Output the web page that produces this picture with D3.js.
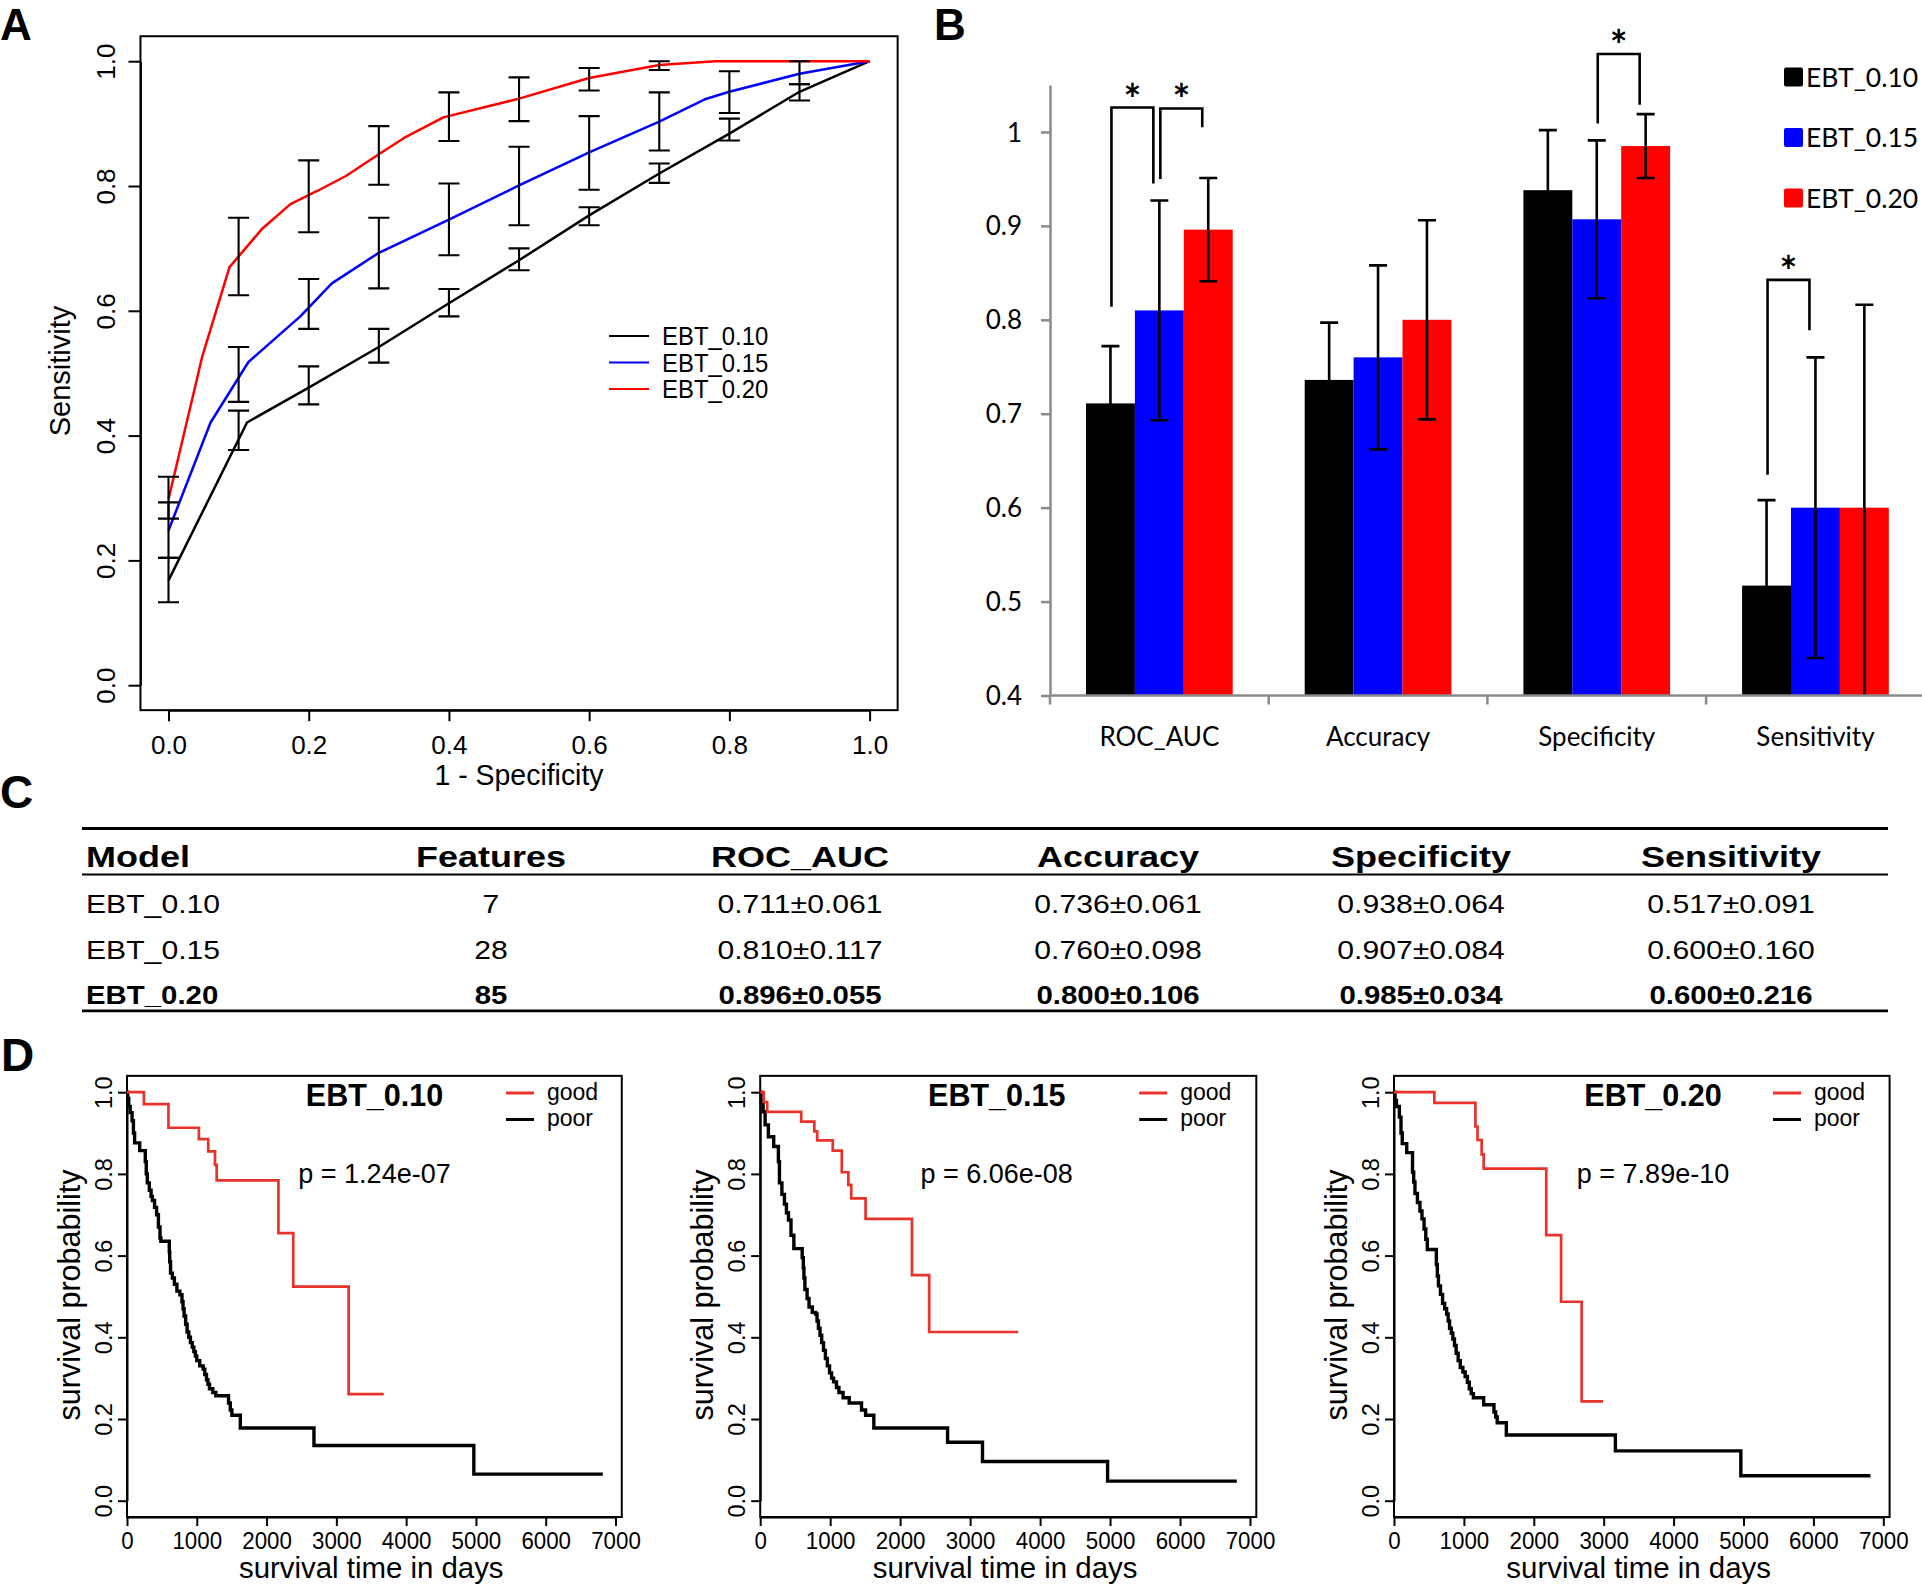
<!DOCTYPE html>
<html><head><meta charset="utf-8">
<script src="https://cdn.jsdelivr.net/npm/d3@7"></script>
<style>body{margin:0;background:#fff}svg{display:block}</style>
</head><body>
<svg id="fig" width="1922" height="1587"></svg>
<script>
// ================= DATA =================
const models = ["EBT_0.10", "EBT_0.15", "EBT_0.20"];
const features = [7, 28, 85];
const metrics = ["ROC_AUC", "Accuracy", "Specificity", "Sensitivity"];

// Panel B / C: mean and sd per model, in metric order
const meanEBT010 = [0.711, 0.736, 0.938, 0.517];
const sdEBT010   = [0.061, 0.061, 0.064, 0.091];
const meanEBT015 = [0.810, 0.760, 0.907, 0.600];
const sdEBT015   = [0.117, 0.098, 0.084, 0.160];
const meanEBT020 = [0.896, 0.800, 0.985, 0.600];
const sdEBT020   = [0.055, 0.106, 0.034, 0.216];
const barTicks = [0.4, 0.5, 0.6, 0.7, 0.8, 0.9, 1.0];
const sigBrackets = [
  { metric: "ROC_AUC", left: 0, right: 1, top: 1.026, leftEnd: 0.814, rightEnd: 0.945 },
  { metric: "ROC_AUC", left: 1, right: 2, top: 1.025, leftEnd: 0.950, rightEnd: 1.005 },
  { metric: "Specificity", left: 1, right: 2, top: 1.083, leftEnd: 1.009, rightEnd: 1.029 },
  { metric: "Sensitivity", left: 0, right: 1, top: 0.8425, leftEnd: 0.635, rightEnd: 0.789 }
];

// Panel A: ROC curves [1-specificity, sensitivity] and error bars [1-spec, low, high]
const rocTicks = [0, 0.2, 0.4, 0.6, 0.8, 1.0];
const rocEBT010 = [[0,0.168],[0.112,0.421],[0.2,0.477],[0.3,0.542],[0.4,0.612],[0.5,0.681],[0.6,0.753],[0.7,0.82],[0.8,0.884],[0.9,0.951],[1,1]];
const rocEBT015 = [[0,0.248],[0.06,0.421],[0.114,0.518],[0.188,0.591],[0.233,0.644],[0.3,0.693],[0.4,0.746],[0.5,0.801],[0.6,0.854],[0.7,0.903],[0.765,0.939],[0.8,0.951],[0.9,0.98],[1,1]];
const rocEBT020 = [[0,0.298],[0.048,0.526],[0.087,0.67],[0.134,0.732],[0.174,0.771],[0.212,0.792],[0.253,0.816],[0.3,0.851],[0.336,0.877],[0.392,0.91],[0.5,0.94],[0.6,0.973],[0.7,0.994],[0.78,1],[1,1]];
const rocErrEBT010 = [[0,0.133,0.204],[0.1,0.377,0.44],[0.2,0.45,0.511],[0.3,0.517,0.571],[0.4,0.591,0.635],[0.5,0.665,0.7],[0.6,0.737,0.766],[0.7,0.805,0.836],[0.8,0.873,0.908],[0.9,0.937,0.963]];
const rocErrEBT015 = [[0,0.204,0.293],[0.1,0.454,0.542],[0.2,0.571,0.651],[0.3,0.636,0.749],[0.4,0.689,0.804],[0.5,0.737,0.863],[0.6,0.794,0.912],[0.7,0.857,0.95],[0.8,0.917,0.984],[0.9,0.963,1.0]];
const rocErrEBT020 = [[0,0.267,0.334],[0.1,0.625,0.749],[0.2,0.726,0.841],[0.3,0.802,0.896],[0.4,0.872,0.95],[0.5,0.904,0.974],[0.6,0.953,0.989],[0.7,0.986,1.0]];

// Panel D: Kaplan-Meier steps [days, survival]
const kmTimeTicks = [0, 1000, 2000, 3000, 4000, 5000, 6000, 7000];
const kmProbTicks = [0, 0.2, 0.4, 0.6, 0.8, 1.0];
const pValues = ["p = 1.24e-07", "p = 6.06e-08", "p = 7.89e-10"];
const kmGoodEBT010 = [[0,1],[242,0.971],[594,0.913],[1030,0.885],[1164,0.855],[1261,0.822],[1285,0.784],[2170,0.655],[2382,0.524],[3176,0.261],[3679,0.261]];
const kmPoorEBT010 = [[0,1],[10,0.985],[25,0.965],[45,0.95],[73,0.93],[92,0.9],[109,0.876],[182,0.857],[262,0.83],[276,0.8],[291,0.778],[320,0.76],[345,0.745],[364,0.735],[395,0.718],[424,0.7],[450,0.67],[473,0.643],[485,0.635],[606,0.609],[612,0.585],[624,0.557],[650,0.545],[679,0.53],[715,0.513],[758,0.504],[788,0.487],[803,0.47],[818,0.452],[840,0.432],[861,0.413],[885,0.4],[909,0.387],[935,0.376],[958,0.365],[980,0.354],[1000,0.343],[1042,0.33],[1091,0.322],[1115,0.309],[1139,0.296],[1160,0.285],[1182,0.274],[1230,0.265],[1273,0.257],[1455,0.239],[1480,0.222],[1503,0.209],[1624,0.178],[2679,0.135],[4970,0.065],[6818,0.065]];
const kmGoodEBT015 = [[0,1],[50,0.976],[100,0.952],[586,0.928],[774,0.904],[815,0.882],[1037,0.857],[1166,0.804],[1260,0.773],[1301,0.74],[1506,0.69],[2169,0.552],[2415,0.413],[3687,0.413]];
const kmPoorEBT015 = [[0,1],[15,0.975],[41,0.952],[70,0.92],[117,0.891],[193,0.867],[260,0.83],[275,0.778],[310,0.75],[346,0.726],[375,0.705],[404,0.687],[440,0.65],[481,0.617],[600,0.595],[616,0.57],[625,0.545],[639,0.517],[670,0.495],[698,0.474],[744,0.461],[791,0.457],[812,0.44],[832,0.422],[855,0.405],[879,0.387],[905,0.368],[932,0.348],[960,0.33],[991,0.313],[1020,0.3],[1049,0.291],[1090,0.277],[1125,0.265],[1184,0.252],[1272,0.239],[1448,0.222],[1506,0.209],[1624,0.178],[2678,0.143],[3177,0.096],[4965,0.048],[6811,0.048]];
const kmGoodEBT020 = [[0,1],[577,0.974],[1165,0.916],[1195,0.883],[1254,0.848],[1283,0.813],[2178,0.65],[2390,0.487],[2684,0.243],[2990,0.243]];
const kmPoorEBT020 = [[0,1],[15,0.98],[35,0.965],[77,0.939],[100,0.9],[118,0.874],[182,0.852],[265,0.804],[282,0.78],[300,0.752],[335,0.73],[371,0.709],[400,0.69],[430,0.665],[455,0.64],[477,0.615],[606,0.578],[620,0.55],[636,0.526],[665,0.505],[695,0.483],[725,0.47],[753,0.457],[775,0.44],[795,0.422],[820,0.41],[842,0.396],[865,0.38],[889,0.361],[918,0.343],[948,0.326],[985,0.315],[1018,0.304],[1050,0.29],[1077,0.274],[1105,0.262],[1136,0.252],[1283,0.235],[1430,0.217],[1455,0.205],[1477,0.191],[1607,0.161],[3167,0.122],[4962,0.061],[6816,0.061]];

// ================= DRAWING =================
const SANS = "'Liberation Sans', Arial, Helvetica, sans-serif";
const CAL = "Lato, 'Open Sans', sans-serif";
const colors = ["#000000", "#0000ff", "#ff0000"];
const svg = d3.select("#fig");

function T(parent, x, y, str, o = {}) {
  const rot = o.rotate || 0, sx = o.sx || 1, sy = o.sy || 1;
  let tr = `translate(${x},${y})`;
  if (rot) tr += ` rotate(${rot})`;
  if (sx !== 1 || sy !== 1) tr += ` scale(${sx},${sy})`;
  return parent.append("text").attr("transform", tr)
    .attr("font-family", o.family || SANS).attr("font-size", o.size || 20)
    .attr("font-weight", o.weight || "normal").attr("text-anchor", o.anchor || "start")
    .attr("dy", o.dy || 0).attr("fill", o.fill || "#000").text(str);
}

// panel letters
T(svg, 0, 40, "A", { size: 44, weight: "bold" });
T(svg, 934, 40, "B", { size: 44, weight: "bold" });
T(svg, 0, 808, "C", { size: 46, weight: "bold" });
T(svg, 1, 1071, "D", { size: 46, weight: "bold" });

// ---------- Panel A ----------
(function () {
  const g = svg.append("g");
  const x = d3.scaleLinear([0, 1], [168.5, 869.6]);
  const y = d3.scaleLinear([0, 1], [685.2, 61.2]);
  const boxL = x(-0.04), boxR = x(1.04), boxT = y(1.04), boxB = y(-0.04);
  const ax = g.append("g").attr("transform", `translate(0,${boxB})`)
    .call(d3.axisBottom(x).tickValues(rocTicks).tickFormat(d3.format(".1f")).tickSize(11).tickSizeOuter(0));
  ax.attr("font-family", SANS).attr("font-size", 26);
  ax.selectAll("line,path").attr("stroke-width", 2);
  ax.selectAll("text").attr("y", 44).attr("dy", 0);
  const ay = g.append("g").attr("transform", `translate(${boxL},0)`)
    .call(d3.axisLeft(y).tickValues(rocTicks).tickFormat(d3.format(".1f")).tickSize(12).tickSizeOuter(0));
  ay.attr("font-family", SANS).attr("font-size", 26);
  ay.selectAll("line,path").attr("stroke-width", 2);
  ay.selectAll("text").attr("x", 0).attr("dy", 0).attr("text-anchor", "middle")
    .attr("transform", `translate(${115.4 - boxL},0) rotate(-90)`);
  g.append("rect").attr("x", boxL).attr("y", boxT).attr("width", boxR - boxL).attr("height", boxB - boxT)
    .attr("fill", "none").attr("stroke", "#000").attr("stroke-width", 2);
  T(g, (x(0) + x(1)) / 2, 785, "1 - Specificity", { size: 29, anchor: "middle", sx: 0.98 });
  T(g, 70, 371, "Sensitivity", { size: 29, anchor: "middle", rotate: -90 });

  const curves = [rocEBT010, rocEBT015, rocEBT020];
  const errs = [rocErrEBT010, rocErrEBT015, rocErrEBT020];
  const line = d3.line().x(d => x(d[0])).y(d => y(d[1]));
  curves.forEach((c, i) => g.append("path").attr("d", line(c)).attr("fill", "none")
    .attr("stroke", colors[i]).attr("stroke-width", 2.5).attr("stroke-linejoin", "round"));
  const cap = 10.5;
  errs.forEach(e => e.forEach(([f, lo, hi]) => {
    const cx = x(f);
    g.append("path").attr("d", `M${cx},${y(lo)}V${y(hi)}M${cx - cap},${y(lo)}H${cx + cap}M${cx - cap},${y(hi)}H${cx + cap}`)
      .attr("stroke", "#000").attr("stroke-width", 2.1).attr("fill", "none");
  }));
  // legend
  models.forEach((m, i) => {
    const ly = 336 + i * 26.5;
    g.append("line").attr("x1", 609).attr("x2", 649).attr("y1", ly).attr("y2", ly)
      .attr("stroke", colors[i]).attr("stroke-width", 2);
    T(g, 662, ly, m, { size: 26, dy: "0.36em", sx: 0.92 });
  });
})();

// ---------- Panel B ----------
(function () {
  const g = svg.append("g");
  const y = d3.scaleLinear([0.4, 1.05], [695.5, 85]);
  const x0 = d3.scaleBand(metrics, [1050, 1924.8]);
  const bw = x0.bandwidth();
  const x1 = d3.scaleBand(models, [36, bw - 36]);
  const means = [meanEBT010, meanEBT015, meanEBT020];
  const sds = [sdEBT010, sdEBT015, sdEBT020];
  const gray = "#8a8a8a";

  metrics.forEach((m, j) => models.forEach((mod, i) => {
    const v = means[i][j];
    g.append("rect").attr("x", x0(m) + x1(mod)).attr("width", x1.bandwidth())
      .attr("y", y(v)).attr("height", y(0.4) - y(v)).attr("fill", colors[i]);
  }));
  const cap = 9;
  metrics.forEach((m, j) => models.forEach((mod, i) => {
    const v = means[i][j], s = sds[i][j];
    const cx = x0(m) + x1(mod) + x1.bandwidth() / 2;
    const hi = v + s, loRaw = v - s, lo = Math.max(loRaw, 0.4);
    let d = `M${cx},${y(lo)}V${y(hi)}M${cx - cap},${y(hi)}H${cx + cap}`;
    if (loRaw >= 0.4) d += `M${cx - cap},${y(lo)}H${cx + cap}`;
    g.append("path").attr("d", d).attr("stroke", "#000").attr("stroke-width", 2.6).attr("fill", "none");
  }));
  // axes
  const ay = g.append("g").attr("transform", "translate(1050,0)")
    .call(d3.axisLeft(y).tickValues(barTicks).tickFormat(d => d === 1 ? "1" : d.toFixed(1)).tickSize(9).tickSizeOuter(0));
  ay.attr("font-family", CAL).attr("font-size", 26);
  ay.selectAll("line,path").attr("stroke", gray).attr("stroke-width", 2.5);
  ay.selectAll("text").attr("x", -28).attr("dy", "0.35em").attr("fill", "#000");
  const edges = metrics.map(m => x0(m)).concat([x0.range()[1]]);
  g.append("line").attr("x1", 1050).attr("x2", 1922).attr("y1", y(0.4)).attr("y2", y(0.4))
    .attr("stroke", gray).attr("stroke-width", 2.5);
  edges.forEach(e => g.append("line").attr("x1", e).attr("x2", e).attr("y1", y(0.4)).attr("y2", y(0.4) + 9)
    .attr("stroke", gray).attr("stroke-width", 2.5));
  metrics.forEach(m => T(g, x0(m) + bw / 2, 746, m, { size: 26, family: CAL, anchor: "middle" }));
  // brackets
  sigBrackets.forEach(b => {
    const cxL = x0(b.metric) + x1(models[b.left]) + x1.bandwidth() / 2 + 1;
    const cxR = x0(b.metric) + x1(models[b.right]) + x1.bandwidth() / 2 - 6;
    g.append("path").attr("d", `M${cxL},${y(b.leftEnd)}V${y(b.top)}H${cxR}V${y(b.rightEnd)}`)
      .attr("fill", "none").attr("stroke", "#000").attr("stroke-width", 2.6);
    T(g, (cxL + cxR) / 2, y(b.top) + 7, "*", { size: 42, family: CAL, weight: "bold", anchor: "middle" });
  });
  // legend
  models.forEach((m, i) => {
    const ly = 77 + i * 60.5;
    g.append("rect").attr("x", 1784).attr("y", ly - 9.5).attr("width", 19).attr("height", 19)
      .attr("rx", 2).attr("fill", colors[i]);
    T(g, 1806, ly, m, { size: 26.5, family: CAL, dy: "0.36em" });
  });
})();

// ---------- Panel C (table) ----------
(function () {
  const g = svg.append("g");
  const L = 82, R = 1888;
  [[828.5, 2.8], [874.5, 1.8], [1010.8, 2.8]].forEach(([yy, w]) =>
    g.append("line").attr("x1", L).attr("x2", R).attr("y1", yy).attr("y2", yy)
      .attr("stroke", "#000").attr("stroke-width", w));
  const headers = ["Model", "Features"].concat(metrics);
  const colX = [86, 491, 800, 1118, 1421, 1731];
  const means = [meanEBT010, meanEBT015, meanEBT020];
  const sds = [sdEBT010, sdEBT015, sdEBT020];
  headers.forEach((h, c) => T(g, colX[c], 867, h, { size: 30, weight: "bold", anchor: c ? "middle" : "start", sx: 1.2 }));
  const rowY = [913, 958.5, 1004];
  models.forEach((m, r) => {
    const cells = [m, String(features[r])].concat(metrics.map((_, j) =>
      `${means[r][j].toFixed(3)}±${sds[r][j].toFixed(3)}`));
    const bold = r === models.length - 1;
    cells.forEach((s, c) => T(g, colX[c], rowY[r], s,
      { size: 26, weight: bold ? "bold" : "normal", anchor: c ? "middle" : "start", sx: bold ? 1.13 : 1.16 }));
  });
})();

// ---------- Panel D (Kaplan-Meier) ----------
(function () {
  const goods = [kmGoodEBT010, kmGoodEBT015, kmGoodEBT020];
  const poors = [kmPoorEBT010, kmPoorEBT015, kmPoorEBT020];
  const xStart = [127, 760.2, 1394];
  const xEnd = [615.5, 1250, 1883.3];
  const titleOff = [247.5, 236.5, 259];
  const red = "#e8322a";
  const y = d3.scaleLinear([0, 1], [1500.7, 1092.2]);
  models.forEach((m, p) => {
    const g = svg.append("g");
    const x = d3.scaleLinear([0, 7000], [xStart[p], xEnd[p]]);
    const x0 = x(0), boxR = x(7090), boxT = y(1.04), boxB = y(-0.04);
    const ax = g.append("g").attr("transform", `translate(0,${boxB})`)
      .call(d3.axisBottom(x).tickValues(kmTimeTicks).tickFormat(d3.format("d")).tickSize(9).tickSizeOuter(0));
    ax.attr("font-family", SANS).attr("font-size", 23.5);
    ax.selectAll("line,path").attr("stroke-width", 2);
    ax.selectAll("text").attr("y", 0).attr("dy", 0)
      .attr("transform", `translate(0,${1549 - boxB}) scale(0.95,1)`);
    const ay = g.append("g").attr("transform", `translate(${x0},0)`)
      .call(d3.axisLeft(y).tickValues(kmProbTicks).tickFormat(d3.format(".1f")).tickSize(9).tickSizeOuter(0));
    ay.attr("font-family", SANS).attr("font-size", 23.5);
    ay.selectAll("line,path").attr("stroke-width", 2);
    ay.selectAll("text").attr("x", 0).attr("dy", 0).attr("text-anchor", "middle")
      .attr("transform", `translate(-15,0) rotate(-90)`);
    g.append("rect").attr("x", x0).attr("y", boxT).attr("width", boxR - x0).attr("height", boxB - boxT)
      .attr("fill", "none").attr("stroke", "#000").attr("stroke-width", 2);
    const line = d3.line().x(d => x(d[0])).y(d => y(d[1])).curve(d3.curveStepAfter);
    g.append("path").attr("d", line(poors[p])).attr("fill", "none").attr("stroke", "#000").attr("stroke-width", 3.4);
    g.append("path").attr("d", line(goods[p])).attr("fill", "none").attr("stroke", red).attr("stroke-width", 2.7);
    T(g, (x0 + x(7000)) / 2, 1578, "survival time in days", { size: 30, anchor: "middle", sx: 0.98 });
    T(g, x0 - 47, 1295, "survival probability", { size: 30.5, anchor: "middle", rotate: -90 });
    T(g, x0 + titleOff[p], 1106, m, { size: 30.5, weight: "bold", anchor: "middle" });
    T(g, x0 + titleOff[p], 1183, pValues[p], { size: 27, anchor: "middle" });
    [["good", red, 1093], ["poor", "#000", 1119.5]].forEach(([lab, col, ly]) => {
      g.append("line").attr("x1", x0 + 379).attr("x2", x0 + 407).attr("y1", ly).attr("y2", ly)
        .attr("stroke", col).attr("stroke-width", 3);
      T(g, x0 + 420, ly, lab, { size: 23, dy: "0.3em" });
    });
  });
})();
</script>
</body></html>
